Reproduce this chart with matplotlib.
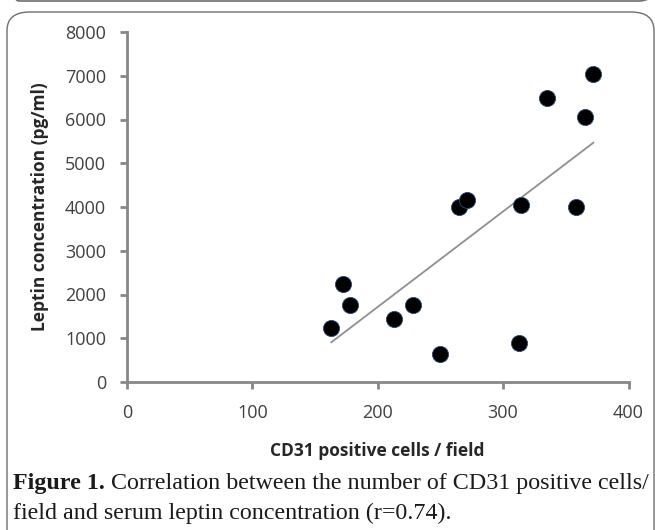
import numpy as np
import matplotlib
matplotlib.use("Agg")
import matplotlib.pyplot as plt
from matplotlib.patches import FancyBboxPatch

# Data
cd31 = [163, 172, 178, 213, 228, 250, 265, 271, 314, 313, 358, 335, 365, 372]
leptin = [1240, 2250, 1750, 1450, 1750, 650, 4000, 4150, 4050, 900, 4000, 6500, 6050, 7050]
xticks = [0, 100, 200, 300, 400]
yticks = [0, 1000, 2000, 3000, 4000, 5000, 6000, 7000, 8000]
xlabel = "CD31 positive cells / field"
ylabel = "Leptin concentration (pg/ml)"
cap_bold = "Figure 1."
cap_rest1 = " Correlation between the number of CD31 positive cells/"
cap_line2 = "field and serum leptin concentration (r=0.74)."

W, H = 655, 530
fig = plt.figure(figsize=(W / 100, H / 100), dpi=100)

def fx(px):
    return px / W

def fy(py):
    return 1 - py / H

# frame boxes
box_col = "#6e6e6e"
top_box = FancyBboxPatch((fx(6), fy(1)), fx(646), 0.2,
                         boxstyle="round,pad=0,rounding_size=0.02",
                         transform=fig.transFigure, fill=False,
                         ec=box_col, lw=1.2, clip_on=False)
fig.patches.append(top_box)
main_box = FancyBboxPatch((fx(7), -0.1), fx(647), fy(12) + 0.1,
                          boxstyle="round,pad=0,rounding_size=0.035",
                          transform=fig.transFigure, fill=False,
                          ec=box_col, lw=1.0, clip_on=False)
fig.patches.append(main_box)

ax_l, ax_r, ax_t, ax_b = 127, 628.5, 32, 382
ax = fig.add_axes([fx(ax_l), fy(ax_b), fx(ax_r) - fx(ax_l), fy(ax_t) - fy(ax_b)])
ax.set_xlim(0, 400)
ax.set_ylim(0, 8000)

axis_col = "#878787"
ax.scatter(cd31, leptin, s=135, c="black", edgecolors="#2a4a7a", linewidths=0.6, zorder=3)

coef = np.polyfit(cd31, leptin, 1)
xs = np.array([min(cd31), max(cd31)])
ax.plot(xs, np.polyval(coef, xs), color="#8f8f8f", lw=1.3, zorder=2)

for s in ["top", "right"]:
    ax.spines[s].set_visible(False)
for s in ["left", "bottom"]:
    ax.spines[s].set_color(axis_col)
    ax.spines[s].set_linewidth(2.0)

ax.set_xticks(xticks)
ax.set_yticks(yticks)
ax.tick_params(axis="both", direction="out", length=5, width=2.0, color=axis_col,
               labelcolor="#404040", labelsize=13)
ax.tick_params(axis="x", pad=11)
ax.tick_params(axis="y", pad=10)
for lab in ax.get_xticklabels() + ax.get_yticklabels():
    lab.set_fontfamily("Open Sans")

ax.set_xlabel(xlabel, fontfamily="Open Sans", fontweight="bold", fontsize=12.5,
              color="#262626", va="center")
ax.set_ylabel(ylabel, fontfamily="Open Sans", fontweight="bold", fontsize=12.5,
              color="#262626", va="center")
axw = ax_r - ax_l
axh = ax_b - ax_t
ax.xaxis.set_label_coords(0.5, (ax_b - 451) / axh)
ax.yaxis.set_label_coords((40 - ax_l) / axw, 0.5)

# caption
cap_size = 17.3
cap_col = "#1a1a1a"
t1 = fig.text(fx(13), fy(489), cap_bold, fontfamily="Liberation Serif", fontweight="bold",
              fontsize=cap_size, va="baseline", ha="left", color=cap_col)
fig.canvas.draw()
bb = t1.get_window_extent()
fig.text(bb.x1 / W, fy(489), cap_rest1, fontfamily="Liberation Serif",
         fontsize=cap_size, va="baseline", ha="left", color=cap_col)
fig.text(fx(13), fy(519), cap_line2, fontfamily="Liberation Serif",
         fontsize=cap_size, va="baseline", ha="left", color=cap_col)

fig.savefig("out.png", dpi=100)
